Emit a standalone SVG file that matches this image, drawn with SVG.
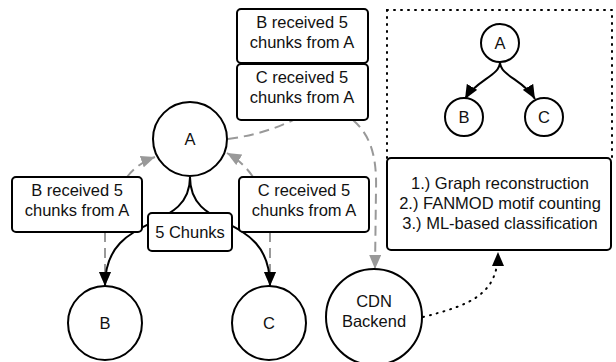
<svg xmlns="http://www.w3.org/2000/svg" width="616" height="362" viewBox="0 0 616 362">
<style>
text{font-family:"Liberation Sans",Arial,sans-serif;font-size:16.5px;fill:#111;text-anchor:middle}
.node{fill:#fff;stroke:#000;stroke-width:2}
.box{fill:#fff;stroke:#000;stroke-width:2}
.solid{fill:none;stroke:#000;stroke-width:2}
.gray{fill:none;stroke:#999;stroke-width:2;stroke-dasharray:10 6}
.dot{fill:none;stroke:#000;stroke-width:2;stroke-dasharray:1 6;stroke-linecap:round}
</style>
<defs>
<marker id="ab" markerUnits="userSpaceOnUse" markerWidth="14" markerHeight="12" refX="14" refY="6" orient="auto" viewBox="0 0 14 12"><path d="M0,0 L14,6 L0,12 z" fill="#000"/></marker>
<marker id="ag" markerUnits="userSpaceOnUse" markerWidth="14" markerHeight="12" refX="14" refY="6" orient="auto" viewBox="0 0 14 12"><path d="M0,0 L14,6 L0,12 z" fill="#999"/></marker>
</defs>
<g id="analysis-frame">
<rect x="387" y="10" width="225" height="150" fill="none" stroke="#000" stroke-width="2" stroke-dasharray="1 6" stroke-linecap="round"/>
</g>
<g id="connectors">
<path class="gray" d="M353,120 C370,135 377,155 376,190 L375,269" marker-end="url(#ag)"/>
<path class="gray" d="M228,139 Q265,134 293,120"/>
<path class="gray" d="M127,177 Q138,163 155,157" marker-end="url(#ag)"/>
<path class="gray" d="M253,177 Q243,162 227,153" marker-end="url(#ag)"/>
<path class="gray" d="M105,232 L105,286" marker-end="url(#ag)"/>
<path class="gray" d="M270,232 L270,286" marker-end="url(#ag)"/>
<path class="solid" d="M190,177 C190,235 105,210 105,286" marker-end="url(#ab)"/>
<path class="solid" d="M190,177 C190,235 270,210 270,286" marker-end="url(#ab)"/>
<path class="solid" d="M500,62 C500,76 476,80 465,99" marker-end="url(#ab)"/>
<path class="solid" d="M500,62 C500,76 524,80 535,99" marker-end="url(#ab)"/>
<path class="dot" d="M423,317 C470,305 498,295 498,252" marker-end="url(#ab)"/>
</g>
<g id="msg-b-top"><rect class="box" x="237" y="9" width="131" height="54" rx="4"/><text x="302" y="28">B received 5</text><text x="302" y="48">chunks from A</text></g>
<g id="msg-c-top"><rect class="box" x="237" y="64" width="131" height="56" rx="4"/><text x="302" y="83">C received 5</text><text x="302" y="103">chunks from A</text></g>
<g id="node-a"><circle class="node" cx="190" cy="139" r="37"/><text x="190" y="145">A</text></g>
<g id="msg-b"><rect class="box" x="12" y="177" width="130" height="55" rx="4"/><text x="77" y="196">B received 5</text><text x="77" y="216">chunks from A</text></g>
<g id="msg-c"><rect class="box" x="239" y="177" width="130" height="55" rx="4"/><text x="304" y="196">C received 5</text><text x="304" y="216">chunks from A</text></g>
<g id="chunks-label"><rect class="box" x="148" y="213" width="84" height="38" rx="4"/><text x="190" y="238">5 Chunks</text></g>
<g id="node-b"><circle class="node" cx="105" cy="323" r="37"/><text x="105" y="329">B</text></g>
<g id="node-c"><circle class="node" cx="269" cy="323" r="37"/><text x="269" y="329">C</text></g>
<g id="cdn"><circle class="node" cx="374" cy="317" r="48"/><text x="374" y="307">CDN</text><text x="374" y="327">Backend</text></g>
<g id="mini-a"><circle class="node" cx="500" cy="43" r="19"/><text x="500" y="49">A</text></g>
<g id="mini-b"><circle class="node" cx="464" cy="117" r="19"/><text x="464" y="123">B</text></g>
<g id="mini-c"><circle class="node" cx="544" cy="117" r="19"/><text x="544" y="123">C</text></g>
<g id="steps"><rect class="box" x="387" y="158" width="224" height="92" rx="4"/><text x="500" y="189">1.) Graph reconstruction</text><text x="500" y="209">2.) FANMOD motif counting</text><text x="500" y="229">3.) ML-based classification</text></g>
</svg>
